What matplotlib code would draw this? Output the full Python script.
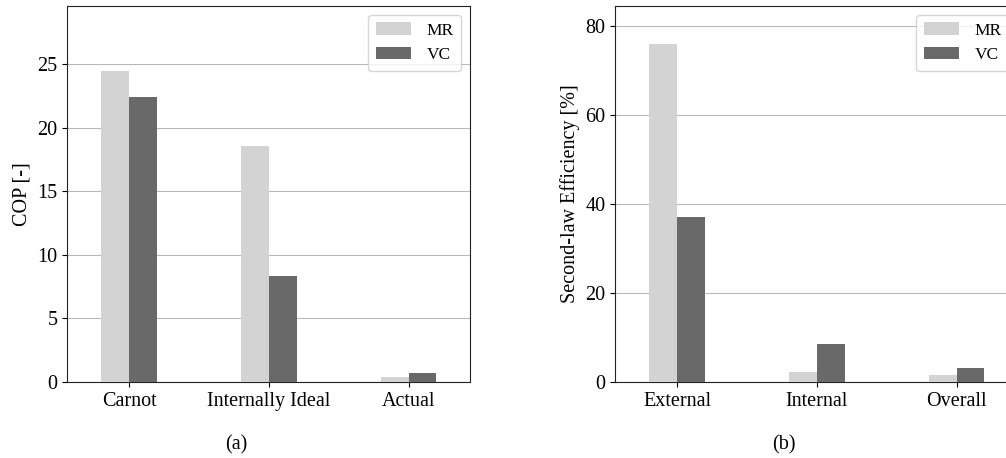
import matplotlib
matplotlib.use("Agg")
import matplotlib.pyplot as plt
import numpy as np

# COP data (panel a)
cop_labels = ["Carnot", "Internally Ideal", "Actual"]
cop_mr = [24.45, 18.55, 0.39]
cop_vc = [22.4, 8.33, 0.71]

# Second-law efficiency data (panel b)
eff_labels = ["External", "Internal", "Overall"]
eff_mr = [76.0, 2.3, 1.57]
eff_vc = [37.1, 8.55, 3.15]

series_names = ["MR", "VC"]
colors = ["#d3d3d3", "#696969"]

plt.rcParams["font.family"] = ["Liberation Serif", "DejaVu Serif"]
plt.rcParams["font.size"] = 14.5

fig = plt.figure(figsize=(10.06, 4.58), dpi=100)
ax1 = fig.add_axes([67 / 1006, 76 / 458, 403 / 1006, 376 / 458])
ax2 = fig.add_axes([615 / 1006, 76 / 458, 403 / 1006, 376 / 458])


def bar_panel(ax, labels, mr, vc, ylabel, ymax, yticks):
    x = np.arange(len(labels))
    w = 0.2
    ax.bar(x - w / 2, mr, w, color=colors[0], label=series_names[0], zorder=3)
    ax.bar(x + w / 2, vc, w, color=colors[1], label=series_names[1], zorder=3)
    ax.set_xticks(x)
    ax.set_xticklabels(labels)
    ax.set_xlim(-0.444, 2.44)
    ax.set_ylim(0, ymax)
    ax.set_yticks(yticks)
    ax.set_ylabel(ylabel)
    ax.yaxis.grid(True, color="#b8b8b8", linewidth=0.8, zorder=0)
    ax.set_axisbelow(True)
    for s in ax.spines.values():
        s.set_color("#222222")
    ax.legend(loc="upper right", fontsize=12.5, handlelength=2.0,
              handleheight=0.7, borderpad=0.45, labelspacing=0.5,
              handletextpad=0.9, framealpha=0.8, edgecolor="#cccccc",
              fancybox=True)


bar_panel(ax1, cop_labels, cop_mr, cop_vc, "COP [-]", 29.55,
          [0, 5, 10, 15, 20, 25])
bar_panel(ax2, eff_labels, eff_mr, eff_vc, "Second-law Efficiency [%]", 84.6,
          [0, 20, 40, 60, 80])

fig.text(236 / 1006, 1 - 445 / 458, "(a)", ha="center", va="center", fontsize=14.5)
fig.text(784 / 1006, 1 - 445 / 458, "(b)", ha="center", va="center", fontsize=14.5)

fig.savefig("out.png", dpi=100)
